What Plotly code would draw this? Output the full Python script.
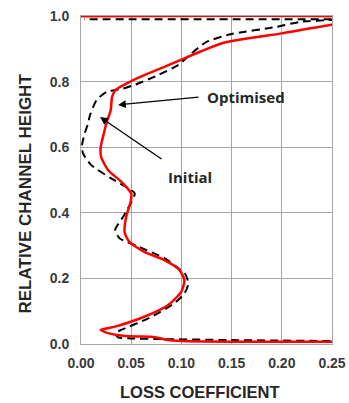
import plotly.graph_objects as go

# Optimised (red) loss coefficient vs relative channel height
opt_loss = [0.30, 0.25, 0.15, 0.10, 0.085, 0.078, 0.07, 0.055, 0.037, 0.027, 0.0196, 0.034, 0.063, 0.087,
            0.100, 0.103, 0.098, 0.083, 0.063, 0.048, 0.0435, 0.045, 0.0495, 0.050, 0.040, 0.027, 0.020,
            0.0196, 0.023, 0.026, 0.0296, 0.031, 0.035, 0.047, 0.063, 0.083, 0.103, 0.1185, 0.143, 0.200,
            0.250, 0.30, 0.25, 0.0]
opt_h = [0.006, 0.007, 0.007, 0.009, 0.013, 0.018, 0.022, 0.023, 0.027, 0.033, 0.043, 0.053, 0.083, 0.119,
         0.160, 0.195, 0.226, 0.256, 0.281, 0.312, 0.340, 0.388, 0.434, 0.459, 0.495, 0.530, 0.571,
         0.600, 0.645, 0.680, 0.713, 0.754, 0.776, 0.797, 0.820, 0.845, 0.871, 0.891, 0.919, 0.947,
         0.973, 0.990, 0.999, 0.999]

# Initial (black dashed)
init_loss = [0.30, 0.25, 0.15, 0.08, 0.05, 0.037, 0.034, 0.040, 0.067, 0.093, 0.103, 0.107, 0.1035,
             0.097, 0.083, 0.057, 0.0385, 0.034, 0.042, 0.0535, 0.047, 0.030, 0.010, 0.002, 0.001,
             0.0037, 0.007, 0.009, 0.0156, 0.0256, 0.0335, 0.042, 0.0535, 0.077, 0.097, 0.110, 0.125,
             0.150, 0.195, 0.218, 0.250, 0.30, 0.25, 0.003]
init_h = [0.008, 0.009, 0.012, 0.015, 0.017, 0.020, 0.033, 0.043, 0.078, 0.124, 0.154, 0.185, 0.215,
          0.231, 0.262, 0.297, 0.322, 0.348, 0.388, 0.459, 0.475, 0.505, 0.546, 0.581, 0.605,
          0.642, 0.672, 0.698, 0.744, 0.769, 0.774, 0.779, 0.790, 0.820, 0.851, 0.886, 0.921,
          0.945, 0.967, 0.982, 0.988, 0.990, 0.990, 0.990]

x_ticks = [0.00, 0.05, 0.10, 0.15, 0.20, 0.25]
x_tick_labels = ["0.00", "0.05", "0.10", "0.15", "0.20", "0.25"]
y_ticks = [0.0, 0.2, 0.4, 0.6, 0.8, 1.0]
y_tick_labels = ["0.0", "0.2", "0.4", "0.6", "0.8", "1.0"]

fig = go.Figure()
fig.add_trace(go.Scatter(x=init_loss, y=init_h, mode="lines", name="Initial",
                         line=dict(color="black", width=2, dash="8px,5px", shape="spline", smoothing=0.6)))
fig.add_trace(go.Scatter(x=opt_loss, y=opt_h, mode="lines", name="Optimised",
                         line=dict(color="#ff0000", width=2.5, shape="spline", smoothing=0.6)))

tfont = dict(family="Liberation Sans, Arial, sans-serif", size=14, color="#3a3a3a", weight="bold")
fig.update_xaxes(range=[0, 0.25], tickvals=x_ticks, ticktext=x_tick_labels, showgrid=True,
                 gridcolor="#a6a6a6", gridwidth=1, showline=True, linecolor="#a6a6a6", mirror=True,
                 zeroline=False, ticks="", tickfont=tfont, automargin=False, ticklabelstandoff=6)
fig.update_yaxes(range=[0, 1.0], tickvals=y_ticks, ticktext=y_tick_labels, showgrid=True,
                 gridcolor="#a6a6a6", gridwidth=1, showline=True, linecolor="#a6a6a6", mirror=True,
                 zeroline=False, ticks="", tickfont=tfont, automargin=False, ticklabelstandoff=8)

title_font = dict(family="Liberation Sans, Arial, sans-serif", size=16.5, color="#262626", weight="bold")
fig.add_annotation(x=(200 - 81) / 251, y=(344 - 391.5) / 328, xref="paper", yref="paper",
                   text="LOSS COEFFICIENT", showarrow=False, font=title_font,
                   xanchor="center", yanchor="middle")
fig.add_annotation(x=(25 - 81) / 251, y=(344 - 193.5) / 328, xref="paper", yref="paper",
                   text="RELATIVE CHANNEL HEIGHT", textangle=-90,
                   showarrow=False, font=dict(title_font, size=17), xanchor="center", yanchor="middle")

afont = dict(family="Open Sans, Liberation Sans, sans-serif", size=15, color="#262626", weight="bold")
fig.add_annotation(x=0.0369, y=0.729, ax=0.1185, ay=0.753, axref="x", ayref="y", xref="x", yref="y",
                   text="", showarrow=True, arrowhead=2, arrowsize=1.2, arrowwidth=1.3, arrowcolor="black")
fig.add_annotation(x=0.019, y=0.692, ax=0.0817, ay=0.561, axref="x", ayref="y", xref="x", yref="y",
                   text="", showarrow=True, arrowhead=2, arrowsize=1.2, arrowwidth=1.3, arrowcolor="black")
fig.add_annotation(x=0.1645, y=0.753, xref="x", yref="y", text="Optimised", showarrow=False, font=afont)
fig.add_annotation(x=0.1085, y=0.509, xref="x", yref="y", text="Initial", showarrow=False, font=afont)

fig.update_layout(width=349, height=403, margin=dict(l=81, r=17, t=16, b=59),
                  plot_bgcolor="white", paper_bgcolor="white", showlegend=False)
fig.write_html("out.html", config={"displayModeBar": False},
               post_script="document.body.style.margin='0';document.body.style.overflow='hidden';")
